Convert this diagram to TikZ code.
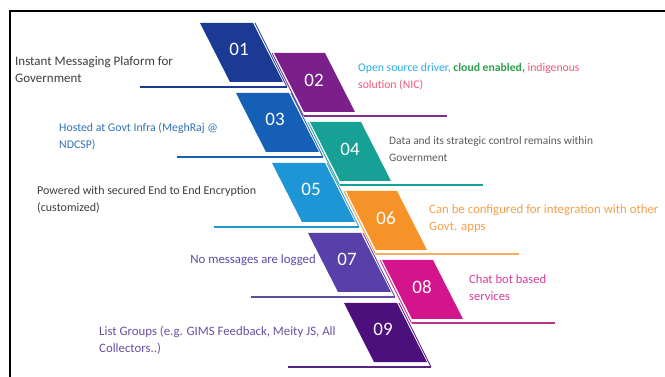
\documentclass[tikz,border=0pt]{standalone}
\usepackage{fontspec}
\setmainfont{Carlito}
\usepackage{xcolor}
\usetikzlibrary{positioning,calc}

\definecolor{cone}{RGB}{27,58,148}
\definecolor{ctwo}{RGB}{123,31,138}
\definecolor{cthree}{RGB}{21,96,182}
\definecolor{cfour}{RGB}{22,160,150}
\definecolor{cfive}{RGB}{30,150,214}
\definecolor{csix}{RGB}{245,146,40}
\definecolor{cseven}{RGB}{88,64,170}
\definecolor{ceight}{RGB}{212,20,140}
\definecolor{cnine}{RGB}{76,16,124}
\definecolor{tdark}{RGB}{60,60,60}
\definecolor{tcyan}{RGB}{41,169,224}
\definecolor{tgreen}{RGB}{46,158,79}
\definecolor{tpink}{RGB}{240,85,122}
\definecolor{tblue}{RGB}{48,112,184}
\definecolor{torange}{RGB}{245,160,74}
\definecolor{tviolet}{RGB}{90,74,168}
\definecolor{tmagenta}{RGB}{214,60,156}
\definecolor{tpurple}{RGB}{106,79,160}

\begin{document}
\begin{tikzpicture}[
  x=1pt, y=-1pt,
  num/.style={font=\fontsize{19}{19}\selectfont, text=white, inner sep=0pt},
  desc/.style={font=\fontsize{#1}{17}\selectfont, align=left, anchor=west,
               inner sep=0pt},
  stripe/.style={line width=0.7pt},
  uline/.style={line width=2.2pt},
]
  \useasboundingbox (0,0) rectangle (665,377);

  % frame (top and left edges only)
  \draw[line width=1.8pt] (10,377) -- (10,11) -- (665,11);

  % LEFT COLUMN: odd blocks
  \fill[cone]   (200,23)  -- (253,23)  -- (283,82)  -- (230,82)  -- cycle;
  \fill[cthree] (236,93)  -- (289,93)  -- (319,152) -- (266,152) -- cycle;
  \fill[cfive]  (272,163) -- (325,163) -- (355,222) -- (302,222) -- cycle;
  \fill[cseven] (308,233) -- (361,233) -- (391,292) -- (338,292) -- cycle;
  \fill[cnine]  (344,303) -- (397,303) -- (427,362) -- (374,362) -- cycle;

  % RIGHT COLUMN: even blocks
  \fill[ctwo]   (274,53)  -- (325,53)  -- (355,112) -- (304,112) -- cycle;
  \fill[cfour]  (310,122) -- (361,122) -- (391,181) -- (340,181) -- cycle;
  \fill[csix]   (346,191) -- (397,191) -- (427,250) -- (376,250) -- cycle;
  \fill[ceight] (382,260) -- (433,260) -- (463,319) -- (412,319) -- cycle;

  % thin stripes and underlines, odd side
  \draw[stripe, cone]   (255,23)  -- (287,87);
  \draw[uline, cone]    (140,87)  -- (287,87);
  \draw[stripe, cthree] (291,93)  -- (323,157);
  \draw[uline, cthree]  (177,157) -- (323,157);
  \draw[stripe, cfive]  (327,163) -- (359,227);
  \draw[uline, cfive!85!cfour] (214,227) -- (359,227);
  \draw[stripe, cseven] (363,233) -- (395,297);
  \draw[uline, cseven!80!gray]  (251,297) -- (395,297);
  \draw[stripe, cnine]  (399,303) -- (431,367);
  \draw[uline, cnine!80!gray]   (288,367) -- (431,367);

  % thin stripes and underlines, even side
  \draw[stripe, ctwo]   (272,53)  -- (303.5,116);
  \draw[uline, ctwo!80!gray]    (303.5,116) -- (447,116);
  \draw[stripe, cfour]  (308,122) -- (339.5,185);
  \draw[uline, cfour]   (339.5,185) -- (483,185);
  \draw[stripe, csix]   (344,191) -- (375.5,254);
  \draw[uline, csix!75!white]   (375.5,254) -- (519,254);
  \draw[stripe, ceight] (380,260) -- (411.5,323);
  \draw[uline, ceight!70!gray]  (411.5,323) -- (555,323);

  % numbers
  \node[num] (n01) at (239,49)  {01};
  \node[num] (n02) at (314,80)  {02};
  \node[num] (n03) at (275,119) {03};
  \node[num] (n04) at (350,149) {04};
  \node[num] (n05) at (311,189) {05};
  \node[num] (n06) at (386,218) {06};
  \node[num] (n07) at (347,259) {07};
  \node[num] (n08) at (422,287) {08};
  \node[num] (n09) at (383,329) {09};

  % descriptions
  \node[desc=13, text=tdark] (d01) at (15,69.5)
       {Instant Messaging Plaform for\\Government};
  \node[desc=11.7] (d02) at (358,77)
       {{\color{tcyan}Open source driver,} {\color{tgreen}\bfseries cloud enabled,}
        {\color{tpink}indigenous}\\{\color{tpink}solution (NIC)}};
  \node[desc=11.8, text=tblue] (d03) at (59,136.5)
       {Hosted at Govt Infra (MeghRaj @\\NDCSP)};
  \node[desc=11.4, text=tdark!85] (d04) at (389,149.5)
       {Data and its strategic control remains within\\Government};
  \node[desc=12, text=tdark] (d05) at (37,199.5)
       {Powered with secured End to End Encryption\\(customized)};
  \node[desc=12.8, text=torange] (d06) at (429,219)
       {Can be configured for integration with other\\Govt. apps};
  \node[desc=12.8, text=tviolet, anchor=east] (d07) at (316,260)
       {No messages are logged};
  \node[desc=12.6, text=tmagenta] (d08) at (469,287.5)
       {Chat bot based\\services};
  \node[desc=12.8, text=tpurple] (d09) at (99,340)
       {List Groups (e.g. GIMS Feedback, Meity JS, All\\Collectors..)};

\end{tikzpicture}
\end{document}
